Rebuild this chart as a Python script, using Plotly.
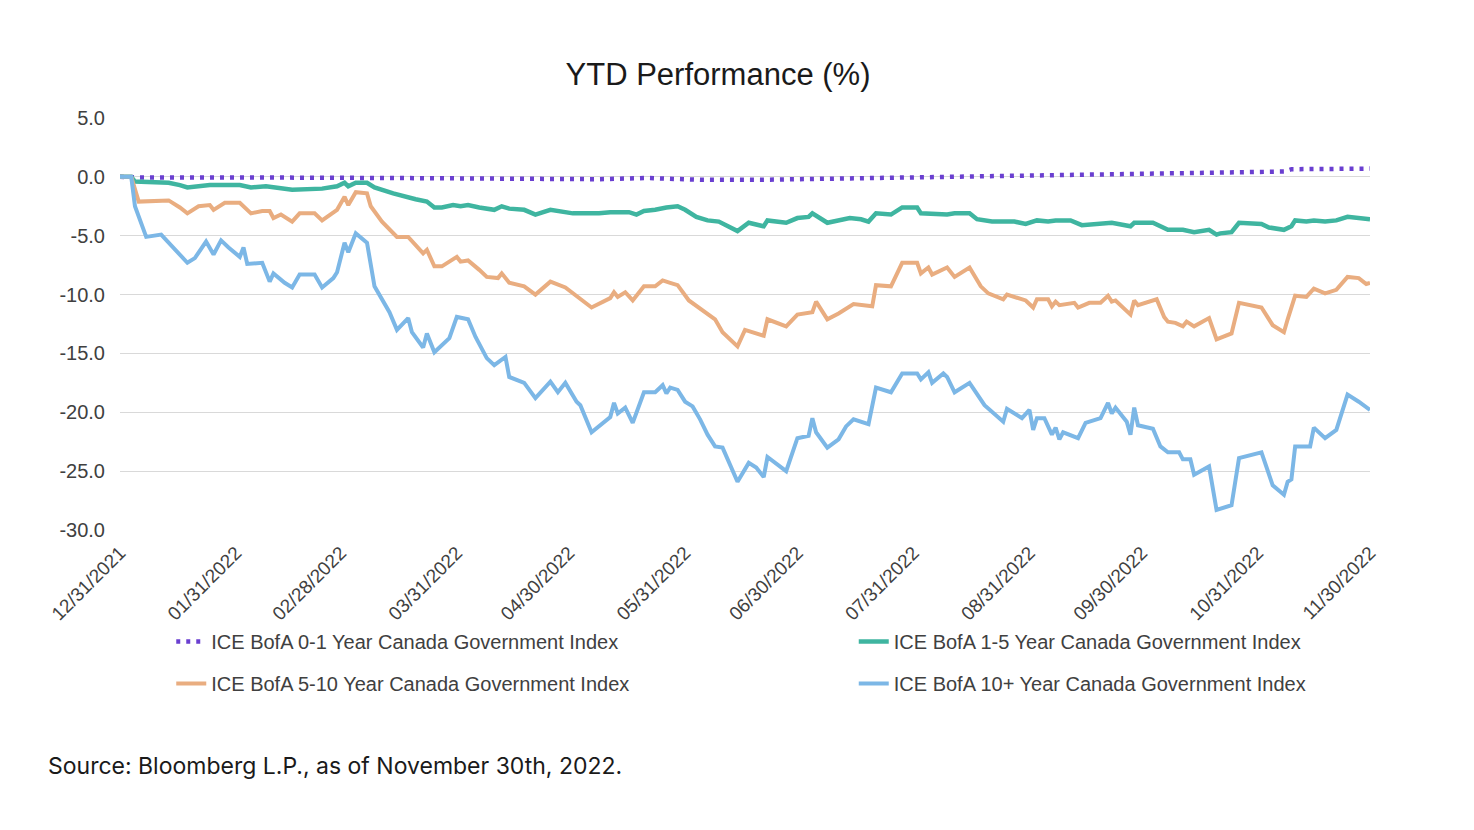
import pandas as pd
import plotly.graph_objects as go

START = "2021-12-31"

# 0-1 Year index (days since 12/31/2021, YTD %)
d01_days = [0, 5, 34, 58, 74, 101, 128, 141, 155, 171, 182, 195, 208, 222, 235, 248, 262, 275, 289, 302, 311, 313, 334]
d01_vals = [0, -0.05, -0.05, -0.05, -0.1, -0.15, -0.2, -0.1, -0.25, -0.25, -0.2, -0.15, -0.05, 0.0, 0.05, 0.1, 0.2, 0.25, 0.35, 0.4, 0.45, 0.65, 0.7]

# 1-5 Year index
d15_days = [0, 3, 4, 13, 16, 18, 24, 32, 35, 39, 46, 54, 58, 60, 61, 63, 66, 68, 73, 75, 79, 82, 84, 86, 89, 91, 93, 96,
            100, 102, 104, 108, 111, 115, 121, 128, 131, 136, 138, 140, 143, 146, 149, 151, 154, 157, 160, 165, 168, 172,
            173, 178, 181, 184, 185, 189, 192, 195, 198, 200, 202, 206, 209, 213, 214, 221, 223, 227, 229, 233, 239, 242,
            245, 248, 250, 254, 257, 262, 265, 270, 271, 276, 280, 284, 287, 291, 293, 294, 297, 299, 305, 307, 311, 313,
            314, 317, 319, 322, 325, 328, 334]
d15_vals = [0, 0, -0.4, -0.5, -0.7, -0.9, -0.7, -0.7, -0.9, -0.8, -1.1, -1.0, -0.8, -0.5, -0.8, -0.5, -0.5, -0.9, -1.4,
            -1.6, -1.9, -2.1, -2.6, -2.6, -2.4, -2.5, -2.4, -2.6, -2.8, -2.5, -2.7, -2.8, -3.2, -2.8, -3.1, -3.1, -3.0,
            -3.0, -3.2, -2.9, -2.8, -2.6, -2.5, -2.8, -3.4, -3.7, -3.8, -4.6, -3.9, -4.2, -3.7, -3.9, -3.5, -3.4, -3.1,
            -3.9, -3.7, -3.5, -3.6, -3.8, -3.1, -3.2, -2.6, -2.6, -3.1, -3.2, -3.1, -3.1, -3.6, -3.8, -3.8, -4.0, -3.7,
            -3.8, -3.7, -3.7, -4.1, -4.0, -3.9, -4.2, -3.9, -3.9, -4.5, -4.5, -4.7, -4.5, -4.9, -4.8, -4.7, -3.9, -4.0,
            -4.3, -4.5, -4.2, -3.7, -3.8, -3.7, -3.8, -3.7, -3.4, -3.6]

# 5-10 Year index
d510_days = [0, 3, 5, 13, 16, 18, 21, 24, 25, 28, 32, 33, 35, 38, 40, 41, 43, 46, 48, 52, 54, 58, 60, 61, 63, 66, 67, 70,
             74, 77, 81, 82, 84, 86, 90, 91, 93, 96, 98, 101, 102, 104, 108, 111, 115, 119, 126, 131, 132, 133, 135, 137,
             140, 143, 145, 147, 149, 152, 157, 159, 161, 165, 167, 172, 173, 178, 181, 185, 186, 189, 192, 196, 201, 202,
             206, 209, 213, 214, 216, 217, 221, 223, 227, 230, 232, 236, 237, 242, 244, 245, 248, 249, 250, 251, 255, 256,
             259, 262, 264, 265, 266, 268, 270, 271, 272, 277, 279, 280, 282, 284, 285, 287, 291, 293, 297, 299, 305, 308,
             311, 312, 314, 317, 319, 322, 325, 328, 331, 333, 334]
d510_vals = [0, 0, -2.1, -2.0, -2.6, -3.1, -2.5, -2.4, -2.8, -2.2, -2.2, -2.5, -3.1, -2.9, -2.9, -3.5, -3.2, -3.8, -3.1,
             -3.1, -3.7, -2.8, -1.7, -2.4, -1.3, -1.4, -2.5, -3.8, -5.1, -5.1, -6.5, -6.2, -7.6, -7.6, -6.8, -7.2, -7.1,
             -7.9, -8.5, -8.6, -8.2, -9.0, -9.3, -10.0, -8.9, -9.4, -11.1, -10.3, -9.8, -10.2, -9.8, -10.5, -9.3, -9.3,
             -8.8, -9.0, -9.2, -10.5, -11.7, -12.1, -13.2, -14.4, -13.0, -13.5, -12.1, -12.7, -11.7, -11.5, -10.6, -12.1,
             -11.6, -10.8, -11.0, -9.2, -9.3, -7.3, -7.3, -8.2, -7.7, -8.3, -7.7, -8.5, -7.7, -9.3, -9.9, -10.4, -10.0,
             -10.5, -11.1, -10.4, -10.4, -11.0, -10.6, -10.9, -10.7, -11.1, -10.7, -10.7, -10.1, -10.6, -10.5, -11.1,
             -11.7, -10.5, -10.9, -10.4, -11.9, -12.3, -12.4, -12.7, -12.3, -12.7, -12.0, -13.8, -13.3, -10.7, -11.1,
             -12.6, -13.2, -12.1, -10.1, -10.2, -9.5, -9.9, -9.6, -8.5, -8.6, -9.1, -9.0]

# 10+ Year index
d10p_days = [0, 3, 4, 7, 11, 13, 15, 18, 20, 23, 25, 27, 29, 32, 33, 34, 38, 40, 41, 44, 46, 48, 52, 54, 57, 58, 60, 61,
             63, 66, 68, 72, 74, 77, 78, 81, 82, 84, 88, 90, 93, 95, 98, 100, 103, 104, 108, 111, 115, 117, 119, 122, 123,
             126, 131, 132, 133, 135, 137, 140, 143, 145, 146, 147, 149, 151, 153, 155, 157, 159, 161, 165, 168, 170, 172,
             173, 178, 181, 184, 185, 186, 189, 192, 194, 196, 200, 202, 206, 209, 213, 214, 216, 217, 220, 221, 223, 227,
             231, 236, 237, 241, 243, 244, 245, 247, 249, 250, 251, 252, 256, 258, 262, 264, 265, 266, 269, 270, 271, 272,
             276, 278, 280, 283, 284, 286, 287, 291, 293, 297, 299, 305, 308, 311, 312, 313, 314, 318, 319, 322, 325, 327,
             328, 331, 334]
d10p_vals = [0, 0, -2.5, -5.1, -4.9, -5.6, -6.2, -7.3, -6.9, -5.5, -6.6, -5.4, -6.0, -6.8, -6.0, -7.4, -7.3, -8.9, -8.2,
             -9.0, -9.4, -8.3, -8.3, -9.4, -8.6, -8.1, -5.6, -6.4, -4.8, -5.6, -9.3, -11.5, -13.0, -12.0, -13.2, -14.5,
             -13.3, -14.9, -13.7, -11.9, -12.1, -13.6, -15.4, -16.0, -15.3, -17.0, -17.5, -18.8, -17.4, -18.3, -17.5,
             -19.1, -19.4, -21.7, -20.4, -19.2, -20.1, -19.6, -20.9, -18.3, -18.3, -17.7, -18.4, -17.9, -18.1, -19.1,
             -19.5, -20.6, -21.9, -22.9, -23.0, -25.9, -24.3, -24.7, -25.5, -23.8, -25.0, -22.2, -22.0, -20.5, -21.7,
             -23.0, -22.3, -21.2, -20.6, -21.0, -17.9, -18.3, -16.7, -16.7, -17.2, -16.6, -17.5, -16.7, -17.0, -18.3,
             -17.5, -19.4, -20.8, -19.7, -20.5, -19.8, -21.5, -20.5, -20.5, -21.9, -21.3, -22.3, -21.7, -22.2, -20.9,
             -20.5, -19.2, -20.1, -19.6, -20.8, -21.9, -19.6, -21.1, -21.4, -22.9, -23.4, -23.4, -24.0, -24.0, -25.3,
             -24.6, -28.3, -27.9, -23.9, -23.4, -26.2, -27.0, -25.9, -25.7, -22.9, -22.9, -21.3, -22.2, -21.5, -19.5,
             -18.5, -19.1, -19.8]

tick_dates = ["2021-12-31", "2022-01-31", "2022-02-28", "2022-03-31", "2022-04-30", "2022-05-31",
              "2022-06-30", "2022-07-31", "2022-08-31", "2022-09-30", "2022-10-31", "2022-11-30"]
y_ticks = [5, 0, -5, -10, -15, -20, -25, -30]
y_labels = ["5.0", "0.0", "-5.0", "-10.0", "-15.0", "-20.0", "-25.0", "-30.0"]

names = ["ICE BofA 0-1 Year Canada Government Index", "ICE BofA 1-5 Year Canada Government Index",
         "ICE BofA 5-10 Year Canada Government Index", "ICE BofA 10+ Year Canada Government Index"]


def to_dates(days):
    return pd.Timestamp(START) + pd.to_timedelta(days, unit="D")


FONT = "Liberation Sans, Arial, sans-serif"

fig = go.Figure()
fig.add_trace(go.Scatter(x=to_dates(d01_days), y=d01_vals, mode="lines", name=names[0],
                         legend="legend", legendgroup="a",
                         line=dict(color="#6a3fd0", width=4.5, dash="4px,6px")))
fig.add_trace(go.Scatter(x=to_dates(d15_days), y=d15_vals, mode="lines", name=names[1],
                         legend="legend2", legendgroup="b",
                         line=dict(color="#3fb5a0", width=4.5)))
fig.add_trace(go.Scatter(x=to_dates(d510_days), y=d510_vals, mode="lines", name=names[2],
                         legend="legend", legendgroup="c",
                         line=dict(color="#e9ad80", width=4)))
fig.add_trace(go.Scatter(x=to_dates(d10p_days), y=d10p_vals, mode="lines", name=names[3],
                         legend="legend2", legendgroup="d",
                         line=dict(color="#7cb7e6", width=4)))

legend_common = dict(orientation="v", xanchor="left", y=-0.223, yanchor="top", tracegroupgap=13,
                     font=dict(family=FONT, size=20, color="#404040"), bgcolor="rgba(0,0,0,0)")

fig.update_layout(
    width=1474, height=830,
    margin=dict(l=112, r=112, t=110, b=308),
    paper_bgcolor="white", plot_bgcolor="white",
    font=dict(family=FONT, color="#404040", size=18),
    title=dict(text="YTD Performance (%)", x=0.4817, xref="container", y=0.9205, yref="container",
               xanchor="center", yanchor="middle", font=dict(family=FONT, size=31, color="#1a1a1a")),
    showlegend=True,
    legend=dict(x=0.041, **legend_common),
    legend2=dict(x=0.587, **legend_common),
)
fig.update_xaxes(type="date", range=[tick_dates[0], tick_dates[-1]], tickvals=tick_dates,
                 tickformat="%m/%d/%Y", tickangle=-45, showgrid=False, zeroline=False,
                 showline=False, ticks="", ticklabelstandoff=7, tickfont=dict(size=19, color="#404040"))
fig.update_yaxes(range=[-30, 5], tickvals=y_ticks, ticktext=y_labels, showgrid=True,
                 gridcolor="#d9d9d9", gridwidth=1, zeroline=False, showline=False, ticks="",
                 ticklabelstandoff=14, tickfont=dict(size=20, color="#404040"))

fig.add_annotation(text="Source: Bloomberg L.P., as of November 30th, 2022.", xref="paper", yref="paper",
                   x=-0.0592, y=-0.573, xanchor="left", yanchor="middle", showarrow=False,
                   font=dict(family="Inter, Roboto, sans-serif", size=23, color="#1a1a1a"))

fig.write_html("out.html")
